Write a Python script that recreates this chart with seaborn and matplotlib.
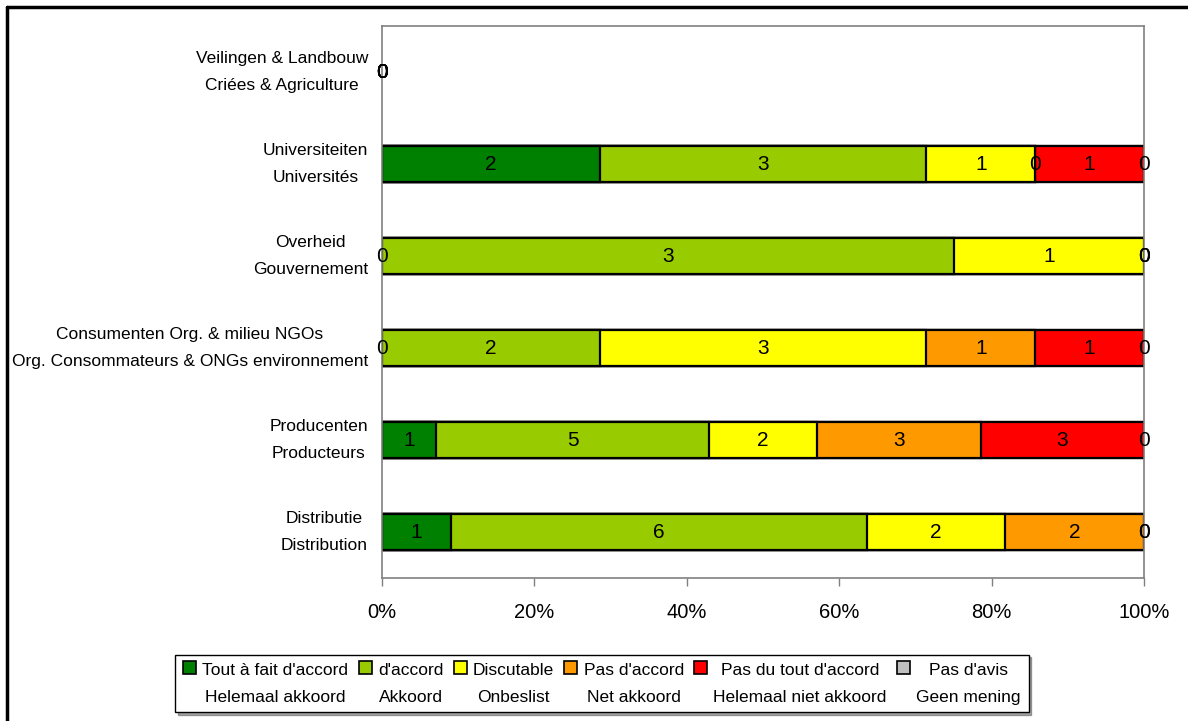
import numpy as np
import pandas as pd
import matplotlib
matplotlib.use("Agg")
import matplotlib.pyplot as plt
import seaborn as sns
from matplotlib.patches import Patch, Rectangle
from matplotlib.lines import Line2D
from matplotlib.legend_handler import HandlerPatch

categories = [
    "Veilingen & Landbouw\nCriées & Agriculture",
    "Universiteiten\nUniversités",
    "Overheid\nGouvernement",
    "Consumenten Org. & milieu NGOs\nOrg. Consommateurs & ONGs environnement",
    "Producenten\nProducteurs",
    "Distributie\nDistribution",
]
series_names = [
    "Tout à fait d'accord\nHelemaal akkoord",
    "d'accord\nAkkoord",
    "Discutable\nOnbeslist",
    "Pas d'accord\nNet akkoord",
    "Pas du tout d'accord\nHelemaal niet akkoord",
    "Pas d'avis\nGeen mening",
]
tout_a_fait = [0, 2, 0, 0, 1, 1]
d_accord = [0, 3, 3, 2, 5, 6]
discutable = [0, 1, 1, 3, 2, 2]
pas_d_accord = [0, 0, 0, 1, 3, 2]
pas_du_tout = [0, 1, 0, 1, 3, 0]
pas_d_avis = [0, 0, 0, 0, 0, 0]
colors = ["#008000", "#99CC00", "#FFFF00", "#FF9900", "#FF0000", "#C0C0C0"]
xtick_vals = [0, 20, 40, 60, 80, 100]
xtick_labels = ["0%", "20%", "40%", "60%", "80%", "100%"]

sns.set_theme(style="white")
plt.rcParams["font.family"] = ["Liberation Sans", "DejaVu Sans"]
plt.rcParams["text.color"] = "black"
plt.rcParams["xtick.labelcolor"] = "black"
plt.rcParams["ytick.labelcolor"] = "black"

counts = np.array([tout_a_fait, d_accord, discutable, pas_d_accord, pas_du_tout, pas_d_avis], dtype=float)
totals = counts.sum(axis=0)
safe = np.where(totals == 0, 1, totals)
pct = counts / safe * 100
cum = np.cumsum(pct, axis=0)
starts = cum - pct

fig = plt.figure(figsize=(11.88, 7.21), dpi=100)
ax = fig.add_axes([382 / 1188, 1 - 578 / 721, (1144 - 382) / 1188, (578 - 26) / 721])

for i in range(len(series_names) - 1, -1, -1):
    df = pd.DataFrame({"cat": categories, "val": cum[i]})
    sns.barplot(data=df, x="val", y="cat", orient="h", color=colors[i],
                edgecolor="black", linewidth=1.6, width=0.4, saturation=1,
                ax=ax, errorbar=None, order=categories)

for p in ax.patches:
    if p.get_width() == 0:
        p.set_linewidth(0)

for i in range(len(series_names)):
    for j in range(len(categories)):
        xc = (starts[i, j] + cum[i, j]) / 2
        ax.text(xc, j, f"{int(counts[i, j])}", ha="center", va="center",
                fontsize=15, color="black")

ax.set_xlim(0, 100)
ax.set_ylim(len(categories) - 0.5, -0.5)
ax.set_xticks(xtick_vals)
ax.set_xticklabels(xtick_labels, fontsize=14.5)
ax.set_yticks(range(len(categories)))
ax.set_yticklabels(categories, fontsize=12.5, multialignment="center", linespacing=2.0,
                   va="center")
ax.set_xlabel("")
ax.set_ylabel("")
ax.tick_params(axis="x", direction="out", length=6, width=1, color="#808080", pad=12, bottom=True)
ax.tick_params(axis="y", length=0, pad=10)
for s in ax.spines.values():
    s.set_visible(True)
    s.set_color("#808080")
    s.set_linewidth(1.2)


def raised_patch(legend, orig_handle, xdescent, ydescent, width, height, fontsize):
    return Rectangle((-xdescent, -ydescent + 0.9 * fontsize), width, height)


handles = [Patch(facecolor=c, edgecolor="black", linewidth=1.2) for c in colors]
leg = fig.legend(handles, series_names, loc="lower center", bbox_to_anchor=(602 / 1188, 0.0),
                 ncol=6, frameon=True, fancybox=False, shadow=True, fontsize=12.5,
                 handlelength=0.75, handleheight=0.75, handletextpad=0.35,
                 columnspacing=0.6, borderpad=0.45, labelspacing=0.2,
                 handler_map={Patch: HandlerPatch(patch_func=raised_patch)})
leg.get_frame().set_edgecolor("black")
leg.get_frame().set_linewidth(1.0)
for t in leg.get_texts():
    t.set_multialignment("center")
    t.set_linespacing(2.0)

fig.add_artist(Line2D([7 / 1188, 7 / 1188], [0, 1 - 7 / 721], color="black", linewidth=2.5,
                      transform=fig.transFigure))
fig.add_artist(Line2D([7 / 1188, 1], [1 - 7 / 721, 1 - 7 / 721], color="black", linewidth=2.5,
                      transform=fig.transFigure))

fig.savefig("out.png", dpi=100)
